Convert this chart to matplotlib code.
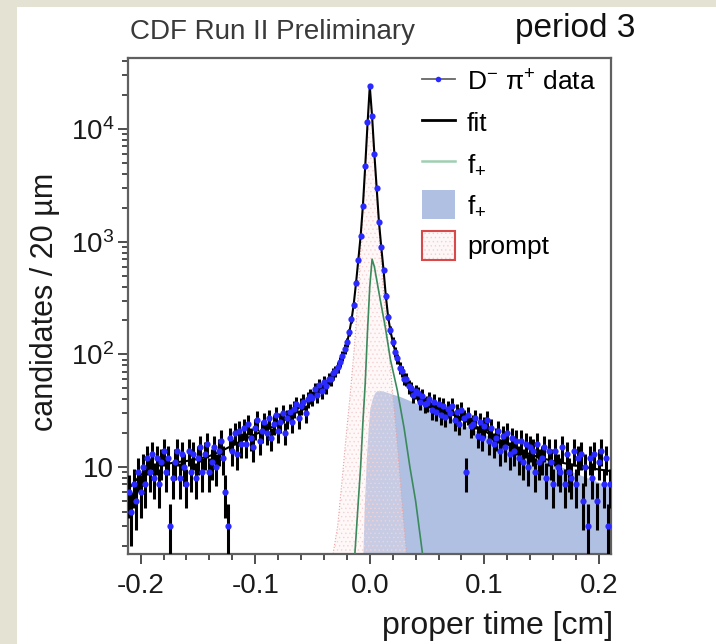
import numpy as np
import matplotlib
matplotlib.use('Agg')
import matplotlib.pyplot as plt
from matplotlib.patches import Rectangle
from matplotlib.lines import Line2D
from matplotlib.ticker import LogLocator, NullFormatter, MultipleLocator

plt.rcParams['font.family'] = ['Liberation Sans', 'DejaVu Sans']
plt.rcParams['mathtext.fontset'] = 'custom'
plt.rcParams['mathtext.rm'] = 'Liberation Sans'
plt.rcParams['mathtext.it'] = 'Liberation Sans:italic'
plt.rcParams['mathtext.sf'] = 'Liberation Sans'
plt.rcParams['axes.unicode_minus'] = False
plt.rcParams['hatch.linewidth'] = 0.5

# D- pi+ candidates per 20 um bin (bin centres every 0.002 cm from -0.210 to 0.210)
time_bins = np.round(np.arange(-0.210, 0.2101, 0.002), 3)
counts = [
    6, 4, 7, 5, 9, 6, 10, 7, 12, 9,
    13, 8, 12, 7, 11, 14, 9, 12, 3, 8,
    11, 14, 8, 13, 10, 7, 14, 9, 13, 8,
    12, 15, 9, 13, 16, 9, 11, 15, 10, 14,
    17, 12, 6, 3, 18, 14, 20, 13, 21, 16,
    22, 16, 24, 18, 15, 22, 26, 17, 21, 25,
    20, 27, 18, 24, 29, 21, 25, 30, 20, 27,
    31, 25, 33, 36, 27, 35, 38, 30, 40, 43,
    41, 49, 44, 53, 47, 57, 52, 61, 60, 68,
    71, 77, 86, 97, 112, 128, 157, 205, 276, 432,
    690, 1120, 2090, 4650, 11500, 24000, 13000, 6000, 3000, 1500,
    900, 560, 330, 215, 165, 130, 105, 92, 76, 71,
    61, 60, 52, 50, 44, 47, 45, 38, 43, 36,
    37, 40, 32, 38, 31, 36, 29, 35, 28, 33,
    30, 35, 26, 31, 24, 32, 27, 9, 29, 23,
    24, 27, 19, 25, 18, 23, 26, 17, 22, 16,
    18, 21, 14, 19, 15, 20, 13, 18, 14, 17,
    12, 17, 11, 16, 10, 15, 14, 9, 16, 11,
    12, 15, 8, 14, 11, 7, 14, 10, 9, 15,
    7, 13, 9, 8, 14, 7, 12, 13, 5, 10,
    3, 12, 8, 13, 5, 11, 14, 7, 12, 3,
    7,
]

# total fit
fit_t = [-0.21, -0.20, -0.19, -0.18, -0.17, -0.16, -0.15, -0.14, -0.13, -0.12,
         -0.11, -0.10, -0.09, -0.08, -0.07, -0.06, -0.05, -0.04, -0.035, -0.03,
         -0.026, -0.022, -0.020, -0.018, -0.016, -0.014, -0.012, -0.010, -0.008,
         -0.006, -0.004, -0.002, 0.0, 0.002, 0.004, 0.006, 0.008, 0.010, 0.012,
         0.014, 0.016, 0.018, 0.020, 0.022, 0.025, 0.03, 0.035, 0.04, 0.05, 0.06,
         0.07, 0.08, 0.09, 0.10, 0.11, 0.12, 0.13, 0.14, 0.15, 0.16, 0.17, 0.18,
         0.19, 0.20, 0.21]
fit_n = [6.5, 8.5, 10, 10.5, 11, 11.3, 11.8, 12.5, 13.8, 15.5,
         17.5, 19.5, 21.5, 24, 28, 35, 43, 54, 61, 71,
         85, 105, 125, 155, 200, 280, 430, 690, 1120,
         2090, 4650, 11000, 24000, 13000, 6000, 3000, 1500, 900, 560,
         330, 215, 162, 130, 108, 88, 64, 52, 45, 37, 33.5,
         30, 27, 23.5, 21, 18, 16, 14, 13, 12, 11.3, 10.8, 10.3,
         9.9, 9.5, 9.2]

# f+ (line component)
green_t = [-0.013, -0.010, -0.008, -0.006, -0.004, -0.002, 0.000, 0.002, 0.004,
           0.006, 0.009, 0.0135, 0.018, 0.024, 0.030, 0.035, 0.040, 0.046]
green_n = [1.7, 5, 10, 25, 55, 160, 400, 700, 600,
           460, 310, 175, 90, 48, 22, 10, 5, 1.7]

# f+ (filled component)
fplus_t = [-0.006, -0.005, -0.003, -0.001, 0.000, 0.002, 0.004, 0.006, 0.008,
           0.012, 0.018, 0.027, 0.04, 0.05, 0.06, 0.07, 0.08, 0.09, 0.10, 0.12,
           0.14, 0.16, 0.18, 0.20, 0.21]
fplus_n = [1.7, 4, 12, 25, 33, 40, 45, 47.5, 48,
           47, 45, 42, 37, 33, 30, 27, 24, 21.5, 19.5, 16,
           13, 10.8, 8.8, 7.3, 6.7]

# prompt component
prompt_t = [-0.032, -0.028, -0.024, -0.020, -0.017, -0.014, -0.012, -0.010, -0.008,
            -0.006, -0.004, -0.002, 0.0, 0.002, 0.004, 0.006, 0.008, 0.010, 0.012,
            0.014, 0.017, 0.020, 0.024, 0.028, 0.032]
prompt_n = [1.7, 3, 8, 22, 45, 100, 180, 355, 800,
            2000, 4500, 10800, 23500, 12300, 5500, 2700, 1300, 650, 355,
            210, 100, 45, 16, 5, 1.7]

fig = plt.figure(figsize=(7.16, 6.44), dpi=100, facecolor='#e4e2d3')
fig.patches.append(Rectangle((17 / 716, 0), 1, 1 - 7 / 644, transform=fig.transFigure,
                             facecolor='white', edgecolor='none', zorder=-10))

ax = fig.add_axes([128 / 716, 1 - 554 / 644, 483 / 716, 496 / 644])
ax.set_yscale('log')

ax.fill_between(fplus_t, fplus_n, 1, color='#b0c0e2', lw=0, zorder=1)
ax.fill_between(prompt_t, prompt_n, 1, facecolor=(1, 0.92, 0.92, 0.3),
                edgecolor='#f5d2d2', hatch='....', lw=0, zorder=2)
ax.plot(prompt_t, prompt_n, ':', color='#eaa0a0', lw=0.8, zorder=2)
ax.plot(green_t, green_n, color='#3a8a5c', lw=1.2, zorder=3)
ax.plot(fit_t, fit_n, color='black', lw=1.5, zorder=4)
counts_arr = np.array(counts, dtype=float)
ax.errorbar(time_bins, counts_arr, yerr=np.sqrt(counts_arr), fmt='none',
            ecolor='black', elinewidth=2.2, capsize=0, zorder=5)
ax.plot(time_bins, counts_arr, 'o', color='#2a2aff', ms=4.5, mec='none', zorder=6)

ax.set_xlim(-0.211, 0.2105)
ax.set_ylim(1.69, 42700)

ax.set_yticks([10, 100, 1000, 10000])
ax.set_yticklabels(['10', '$10^2$', '$10^3$', '$10^4$'])
ax.yaxis.set_minor_locator(LogLocator(base=10, subs=np.arange(2, 10)))
ax.yaxis.set_minor_formatter(NullFormatter())
ax.set_xticks([-0.2, -0.1, 0.0, 0.1, 0.2])
ax.set_xticklabels(['-0.2', '-0.1', '0.0', '0.1', '0.2'])
ax.xaxis.set_minor_locator(MultipleLocator(0.02))

ax.tick_params(which='both', direction='out', top=False, right=False,
               color='#404040', width=1.3, labelsize=20, labelcolor='#1a1a1a')
ax.tick_params(which='major', length=7)
ax.tick_params(which='minor', length=4.5)
ax.tick_params(axis='y', pad=3)
ax.tick_params(axis='x', pad=7)
for sp in ax.spines.values():
    sp.set_color('#606060')
    sp.set_linewidth(1.6)

h_data = Line2D([], [], color='#666666', lw=1.3, marker='o', ms=4,
                mfc='#2a2aff', mec='none')
h_fit = Line2D([], [], color='black', lw=2)
h_green = Line2D([], [], color='#9fcfb0', lw=1.8)
h_fill = Rectangle((0, 0), 1, 1, facecolor='#b0c0e2', edgecolor='none')
h_prompt = (Rectangle((0, 0), 1, 1, facecolor='#fdf7f7', edgecolor='#f3d0d0',
                      hatch='....', lw=0),
            Rectangle((0, 0), 1, 1, facecolor='none', edgecolor='#d84a4a', lw=1.5))
ax.legend([h_data, h_fit, h_green, h_fill, h_prompt],
          ['D$^{-}$ π$^{+}$ data', 'fit', 'f$_{+}$', 'f$_{+}$', 'prompt'],
          loc='upper left', bbox_to_anchor=(422 / 716, 1 - 67 / 644),
          bbox_transform=fig.transFigure, frameon=False, fontsize=19,
          handlelength=1.25, handleheight=1.33, handletextpad=0.45,
          labelspacing=0.44, borderpad=0, borderaxespad=0)

fig.text(130 / 716, 1 - 32 / 644, 'CDF Run II Preliminary', fontsize=20,
         color='#3a3a3a', ha='left', va='center')
fig.text(515 / 716, 1 - 28 / 644, 'period 3', fontsize=24,
         color='#111111', ha='left', va='center')
fig.text(45 / 716, 1 - 302 / 644, 'candidates / 20 µm', fontsize=22,
         color='#1a1a1a', rotation=90, ha='center', va='center')
fig.text(613 / 716, 1 - 626 / 644, 'proper time [cm]', fontsize=23,
         color='#1a1a1a', ha='right', va='center')

fig.savefig('out.png', dpi=100, facecolor=fig.get_facecolor())
